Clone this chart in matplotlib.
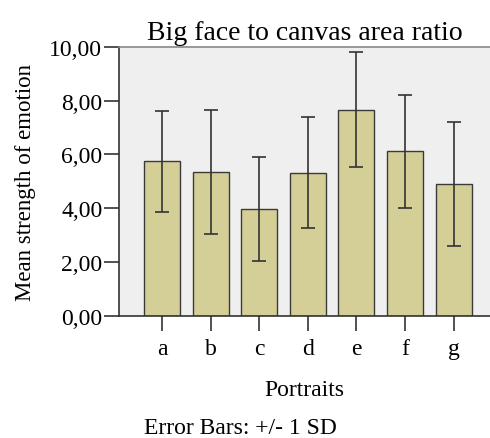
import matplotlib.pyplot as plt
import numpy as np

# dane
portrety = ["a", "b", "c", "d", "e", "f", "g"]
srednie = [5.75, 5.35, 3.97, 5.33, 7.66, 6.12, 4.90]
sd = [1.87, 2.31, 1.94, 2.06, 2.14, 2.09, 2.31]
y_ticki = [0, 2, 4, 6, 8, 10]
y_etykiety = ["0,00", "2,00", "4,00", "6,00", "8,00", "10,00"]

plt.rcParams['font.family'] = ['Liberation Serif', 'DejaVu Serif']

fig = plt.figure(figsize=(4.9, 4.39), dpi=100)
ax = fig.add_axes([0.243, 0.278, 0.757, 0.613])
ax.set_facecolor('#efefef')

x = np.arange(len(portrety))
ax.bar(x, srednie, width=0.74, color='#d4cf97', edgecolor='#3a3a3a', linewidth=1.0, zorder=2)
ax.errorbar(x, srednie, yerr=sd, fmt='none', ecolor='#333333', elinewidth=1.2,
            capsize=5, capthick=1.2, zorder=3)

ax.set_xlim(-0.885, 6.75)
ax.set_ylim(0, 10)
ax.set_xticks(x)
ax.set_xticklabels(portrety, fontsize=17)
ax.set_yticks(y_ticki)
ax.set_yticklabels(y_etykiety, fontsize=17)
ax.tick_params(axis='both', length=11, width=1.2, color='#333333', pad=1)
ax.tick_params(axis='x', pad=5)

for s in ['left', 'bottom']:
    ax.spines[s].set_color('#333333')
    ax.spines[s].set_linewidth(1.2)
ax.spines['top'].set_color('#888888')
ax.spines['top'].set_linewidth(1.2)
ax.spines['right'].set_visible(False)

ax.set_title("Big face to canvas area ratio", fontsize=20, pad=6)
ax.set_ylabel("Mean strength of emotion", fontsize=16.5)
ax.yaxis.set_label_coords(-0.225, 0.5)
ax.set_xlabel("Portraits", fontsize=17, labelpad=14)

fig.text(0.49, 0.025, "Error Bars: +/- 1 SD", fontsize=17, ha='center', va='center')

plt.savefig("out.png", dpi=100)
